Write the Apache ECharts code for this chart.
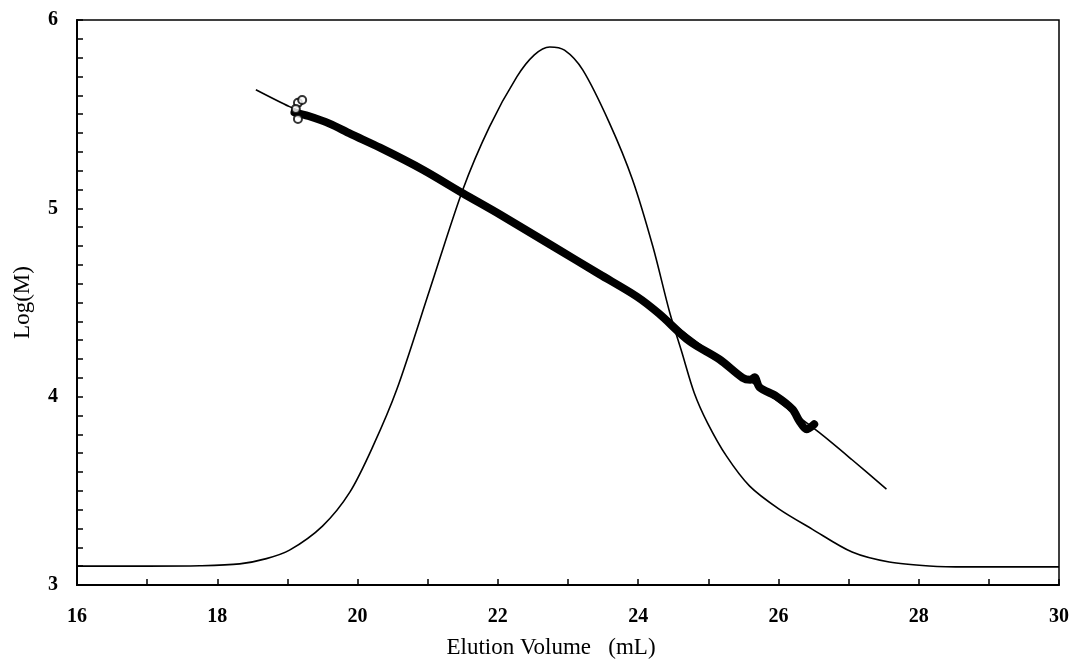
<!DOCTYPE html>
<html>
<head>
<meta charset="utf-8">
<script src="https://cdn.jsdelivr.net/npm/echarts@6/dist/echarts.min.js"></script>
<style>html,body{margin:0;padding:0;background:#fff}#c{width:1072px;height:664px}</style>
</head>
<body>
<div id="c"></div>
<script>
// Chromatogram trace (elution volume, scaled signal)
var chromX = [16.00,17.00,17.75,18.32,18.70,19.03,19.50,19.89,20.22,20.56,21.03,21.50,21.88,22.27,22.52,22.74,22.95,23.21,23.59,23.92,24.21,24.45,24.62,24.80,24.99,25.26,25.59,26.01,26.48,27.05,27.58,28.15,28.68,29.30,30.00];
var chromY = [3.100,3.100,3.102,3.112,3.140,3.185,3.313,3.493,3.737,4.039,4.569,5.099,5.433,5.698,5.815,5.857,5.840,5.735,5.454,5.152,4.797,4.447,4.240,4.020,3.860,3.684,3.525,3.403,3.297,3.175,3.122,3.101,3.096,3.096,3.096];
// Calibration fit line
var fitX = [18.55,19.03,19.60,20.32,20.93,21.50,22.03,22.78,23.45,23.98,24.59,25.16,25.63,26.10,26.58,27.05,27.54];
var fitY = [5.630,5.540,5.445,5.320,5.205,5.080,4.967,4.800,4.650,4.532,4.360,4.200,4.075,3.945,3.810,3.665,3.509];
// Measured Log(M) points (dense band)
var dataX = [19.10,19.30,19.60,19.90,20.32,20.93,21.50,22.03,22.78,23.45,23.98,24.30,24.73,25.16,25.49,25.60,25.66,25.73,25.97,26.20,26.30,26.40,26.51];
var dataY = [5.510,5.490,5.450,5.395,5.322,5.205,5.080,4.967,4.800,4.650,4.532,4.440,4.295,4.198,4.100,4.090,4.103,4.050,4.002,3.933,3.870,3.827,3.854];
// Isolated open circles at the start
var circX = [19.15,19.21,19.12,19.15];
var circY = [5.560,5.575,5.528,5.475];
// Axis ticks
var xTicks = [16,18,20,22,24,26,28,30];
var yTicks = [3,4,5,6];

function pairs(xs, ys){ return xs.map(function(x,i){return [x, ys[i]];}); }

var chart = echarts.init(document.getElementById('c'));
var serif = 'Liberation Serif';
chart.setOption({
  backgroundColor: '#fff',
  animation: false,
  grid: {left: 77, top: 20, right: 12, bottom: 78, show: true, borderColor: '#000', borderWidth: 1.5, backgroundColor: 'transparent'},
  xAxis: {
    type: 'value', min: 16, max: 30, interval: 2,
    name: 'Elution Volume   (mL)', nameLocation: 'middle', nameGap: 51,
    nameTextStyle: {fontFamily: serif, fontSize: 23, color: '#000', padding: [0, 34, 0, 0]},
    axisLine: {lineStyle: {color: '#000', width: 2}},
    axisTick: {inside: true, length: 6, lineStyle: {color: '#000', width: 1.5}},
    minorTick: {show: true, splitNumber: 2, length: 6, lineStyle: {color: '#000', width: 1.5}},
    splitLine: {show: false},
    axisLabel: {fontFamily: serif, fontSize: 20, color: '#000', margin: 22, fontWeight: 'bold'}
  },
  yAxis: {
    type: 'value', min: 3, max: 6, interval: 1,
    name: 'Log(M)', nameLocation: 'middle', nameGap: 43, nameRotate: 90,
    nameTextStyle: {fontFamily: serif, fontSize: 23, color: '#000'},
    axisLine: {show: true, lineStyle: {color: '#000', width: 2}},
    axisTick: {show: true, inside: true, length: 6, lineStyle: {color: '#000', width: 1.5}},
    minorTick: {show: true, splitNumber: 10, length: 6, lineStyle: {color: '#000', width: 1.5}},
    splitLine: {show: false},
    axisLabel: {fontFamily: serif, fontSize: 20, color: '#000', margin: 19, fontWeight: 'bold'}
  },
  series: [
    {type: 'line', data: pairs(chromX, chromY), smooth: 0.3, symbol: 'none', lineStyle: {color: '#000', width: 1.6}},
    {type: 'line', data: pairs(fitX, fitY), smooth: 0.3, symbol: 'none', lineStyle: {color: '#000', width: 1.6}},
    {type: 'line', data: pairs(dataX, dataY), smooth: 0.3, symbol: 'none', lineStyle: {color: '#000', width: 8, cap: 'round', join: 'round'}},
    {type: 'scatter', data: pairs(circX, circY), symbol: 'emptyCircle', symbolSize: 8, z: 5, itemStyle: {color: '#000', borderColor: '#000', borderWidth: 1.8}}
  ]
});
</script>
</body>
</html>
